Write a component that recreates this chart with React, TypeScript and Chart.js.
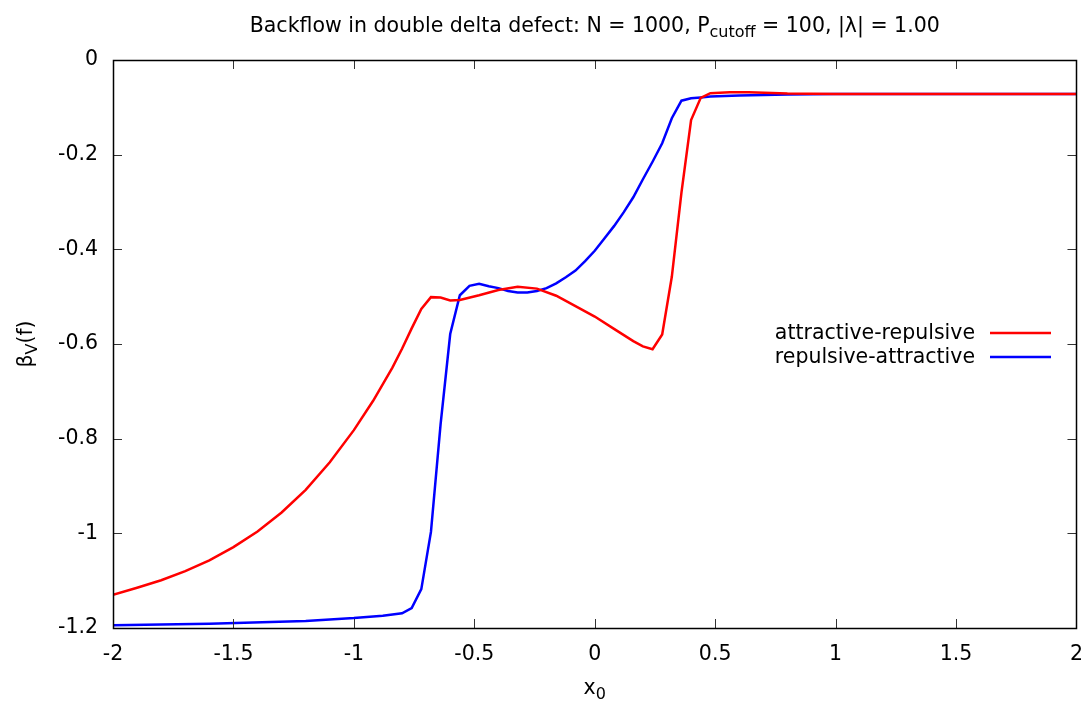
import React, { useEffect, useRef } from "react";
import { Chart, registerables } from "chart.js";

Chart.register(...registerables);

// ---- data ----
const redX = [-2, -1.9, -1.8, -1.7, -1.6, -1.5, -1.4, -1.3, -1.2, -1.1, -1.0, -0.92, -0.84, -0.8, -0.76, -0.72, -0.68, -0.64, -0.6, -0.56, -0.48, -0.4, -0.32, -0.24, -0.16, -0.08, 0, 0.08, 0.16, 0.2, 0.24, 0.28, 0.32, 0.36, 0.4, 0.44, 0.48, 0.56, 0.64, 0.8, 1.0, 1.5, 2.0];
const redY = [-1.13, -1.115, -1.099, -1.08, -1.057, -1.029, -0.996, -0.956, -0.908, -0.85, -0.782, -0.72, -0.65, -0.61, -0.567, -0.526, -0.501, -0.502, -0.508, -0.507, -0.497, -0.486, -0.479, -0.483, -0.498, -0.52, -0.542, -0.568, -0.594, -0.605, -0.611, -0.58, -0.458, -0.28, -0.127, -0.08, -0.07, -0.068, -0.068, -0.071, -0.072, -0.072, -0.072];

const blueX = [-2, -1.6, -1.2, -1.0, -0.88, -0.8, -0.76, -0.72, -0.68, -0.64, -0.6, -0.56, -0.52, -0.48, -0.44, -0.4, -0.36, -0.32, -0.28, -0.24, -0.2, -0.16, -0.12, -0.08, -0.04, 0, 0.04, 0.08, 0.12, 0.16, 0.2, 0.24, 0.28, 0.32, 0.36, 0.4, 0.44, 0.48, 0.6, 0.8, 1.0, 1.5, 2.0];
const blueY = [-1.194, -1.191, -1.185, -1.179, -1.174, -1.169, -1.158, -1.118, -0.997, -0.77, -0.579, -0.497, -0.477, -0.473, -0.478, -0.482, -0.488, -0.491, -0.491, -0.488, -0.482, -0.472, -0.459, -0.445, -0.425, -0.403, -0.377, -0.351, -0.322, -0.29, -0.252, -0.215, -0.176, -0.123, -0.086, -0.081, -0.079, -0.077, -0.075, -0.073, -0.072, -0.072, -0.072];

const seriesLabels = ["attractive-repulsive", "repulsive-attractive"];
const seriesColors = ["#ff0000", "#0000ff"];

const xTickValues = [-2, -1.5, -1, -0.5, 0, 0.5, 1, 1.5, 2];
const yTickValues = [-1.2, -1, -0.8, -0.6, -0.4, -0.2, 0];

const titleParts = [
  { t: "Backflow in double delta defect: N = 1000, P", sub: false },
  { t: "cutoff", sub: true },
  { t: " = 100, |\u03bb| = 1.00", sub: false },
];
const yLabelParts = [
  { t: "\u03b2", sub: false },
  { t: "V", sub: true },
  { t: "(f)", sub: false },
];
const xLabelParts = [
  { t: "x", sub: false },
  { t: "0", sub: true },
];

const FONT = "'DejaVu Sans', sans-serif";
const FS = 20.5;
const SUBFS = 16;

type Part = { t: string; sub: boolean };

function drawRich(ctx: CanvasRenderingContext2D, parts: Part[], cx: number, baseline: number) {
  let total = 0;
  const widths = parts.map((p) => {
    ctx.font = `${p.sub ? SUBFS : FS}px ${FONT}`;
    const w = ctx.measureText(p.t).width;
    total += w;
    return w;
  });
  let x = cx - total / 2;
  ctx.textAlign = "left";
  ctx.textBaseline = "alphabetic";
  parts.forEach((p, i) => {
    ctx.font = `${p.sub ? SUBFS : FS}px ${FONT}`;
    ctx.fillText(p.t, x, baseline + (p.sub ? 5 : 0));
    x += widths[i];
  });
}

const framePlugin = {
  id: "gnuplotFrame",
  afterDraw(chart: any) {
    const ctx: CanvasRenderingContext2D = chart.ctx;
    const { left, right, top, bottom } = chart.chartArea;
    const xs = chart.scales.x;
    const ys = chart.scales.y;
    ctx.save();
    // ticks (inward, mirrored)
    ctx.strokeStyle = "#333";
    ctx.lineWidth = 1;
    ctx.beginPath();
    const tl = 9;
    xTickValues.forEach((v) => {
      const px = Math.round(xs.getPixelForValue(v)) + 0.5;
      ctx.moveTo(px, bottom);
      ctx.lineTo(px, bottom - tl);
      ctx.moveTo(px, top);
      ctx.lineTo(px, top + tl);
    });
    yTickValues.forEach((v) => {
      const py = Math.round(ys.getPixelForValue(v)) + 0.5;
      ctx.moveTo(left, py);
      ctx.lineTo(left + tl, py);
      ctx.moveTo(right, py);
      ctx.lineTo(right - tl, py);
    });
    ctx.stroke();
    // border
    ctx.strokeStyle = "#000";
    ctx.lineWidth = 1.5;
    ctx.strokeRect(Math.round(left) + 0.5, Math.round(top) + 0.5, Math.round(right - left), Math.round(bottom - top));

    ctx.fillStyle = "#000";
    // title
    drawRich(ctx, titleParts, (left + right) / 2, 32);
    // x label
    drawRich(ctx, xLabelParts, (left + right) / 2, 694);
    // y label
    ctx.save();
    ctx.translate(32, (top + bottom) / 2);
    ctx.rotate(-Math.PI / 2);
    drawRich(ctx, yLabelParts, 0, 0);
    ctx.restore();

    // legend
    const ds = chart.data.datasets;
    ds.forEach((d: any, i: number) => {
      const cy = 333 + i * 24;
      ctx.font = `${FS}px ${FONT}`;
      ctx.textAlign = "right";
      ctx.textBaseline = "middle";
      ctx.fillStyle = "#000";
      ctx.fillText(d.label, 975, cy + 1);
      ctx.strokeStyle = d.borderColor;
      ctx.lineWidth = 2.5;
      ctx.beginPath();
      ctx.moveTo(990, cy);
      ctx.lineTo(1051, cy);
      ctx.stroke();
    });
    ctx.restore();
  },
};

function fmt(v: number) {
  const s = Number(v.toFixed(1)).toString();
  return s === "-0" ? "0" : s;
}

export default function App() {
  const ref = useRef<HTMLCanvasElement | null>(null);
  useEffect(() => {
    document.body.style.margin = "0";
    if (!ref.current) return;
    const chart = new Chart(ref.current, {
      type: "line",
      data: {
        datasets: [
          {
            label: seriesLabels[0],
            data: redX.map((x, i) => ({ x, y: redY[i] })),
            borderColor: seriesColors[0],
            backgroundColor: seriesColors[0],
            borderWidth: 2.5,
            pointRadius: 0,
            tension: 0,
          },
          {
            label: seriesLabels[1],
            data: blueX.map((x, i) => ({ x, y: blueY[i] })),
            borderColor: seriesColors[1],
            backgroundColor: seriesColors[1],
            borderWidth: 2.5,
            pointRadius: 0,
            tension: 0,
          },
        ],
      },
      options: {
        responsive: false,
        animation: false,
        layout: { padding: { top: 60, right: 6, left: 0, bottom: 0 } },
        plugins: {
          legend: { display: false },
          title: { display: false },
          tooltip: { enabled: false },
        },
        scales: {
          x: {
            type: "linear",
            min: -2,
            max: 2,
            afterFit: (s: any) => {
              s.height = 76;
            },
            afterBuildTicks: (s: any) => {
              s.ticks = xTickValues.map((v) => ({ value: v }));
            },
            grid: { display: false },
            border: { display: false },
            ticks: {
              padding: 6,
              color: "#000",
              font: { family: FONT, size: FS },
              callback: (v: any) => fmt(Number(v)),
              maxRotation: 0,
              autoSkip: false,
            },
          },
          y: {
            type: "linear",
            min: -1.2,
            max: 0,
            afterFit: (s: any) => {
              s.width = 113;
            },
            afterBuildTicks: (s: any) => {
              s.ticks = yTickValues.map((v) => ({ value: v }));
            },
            grid: { display: false },
            border: { display: false },
            ticks: {
              padding: 7,
              color: "#000",
              font: { family: FONT, size: FS },
              callback: (v: any) => fmt(Number(v)),
              autoSkip: false,
            },
          },
        },
      },
      plugins: [framePlugin],
    });
    return () => chart.destroy();
  }, []);
  return <canvas ref={ref} width={1089} height={704} style={{ display: "block" }} />;
}
